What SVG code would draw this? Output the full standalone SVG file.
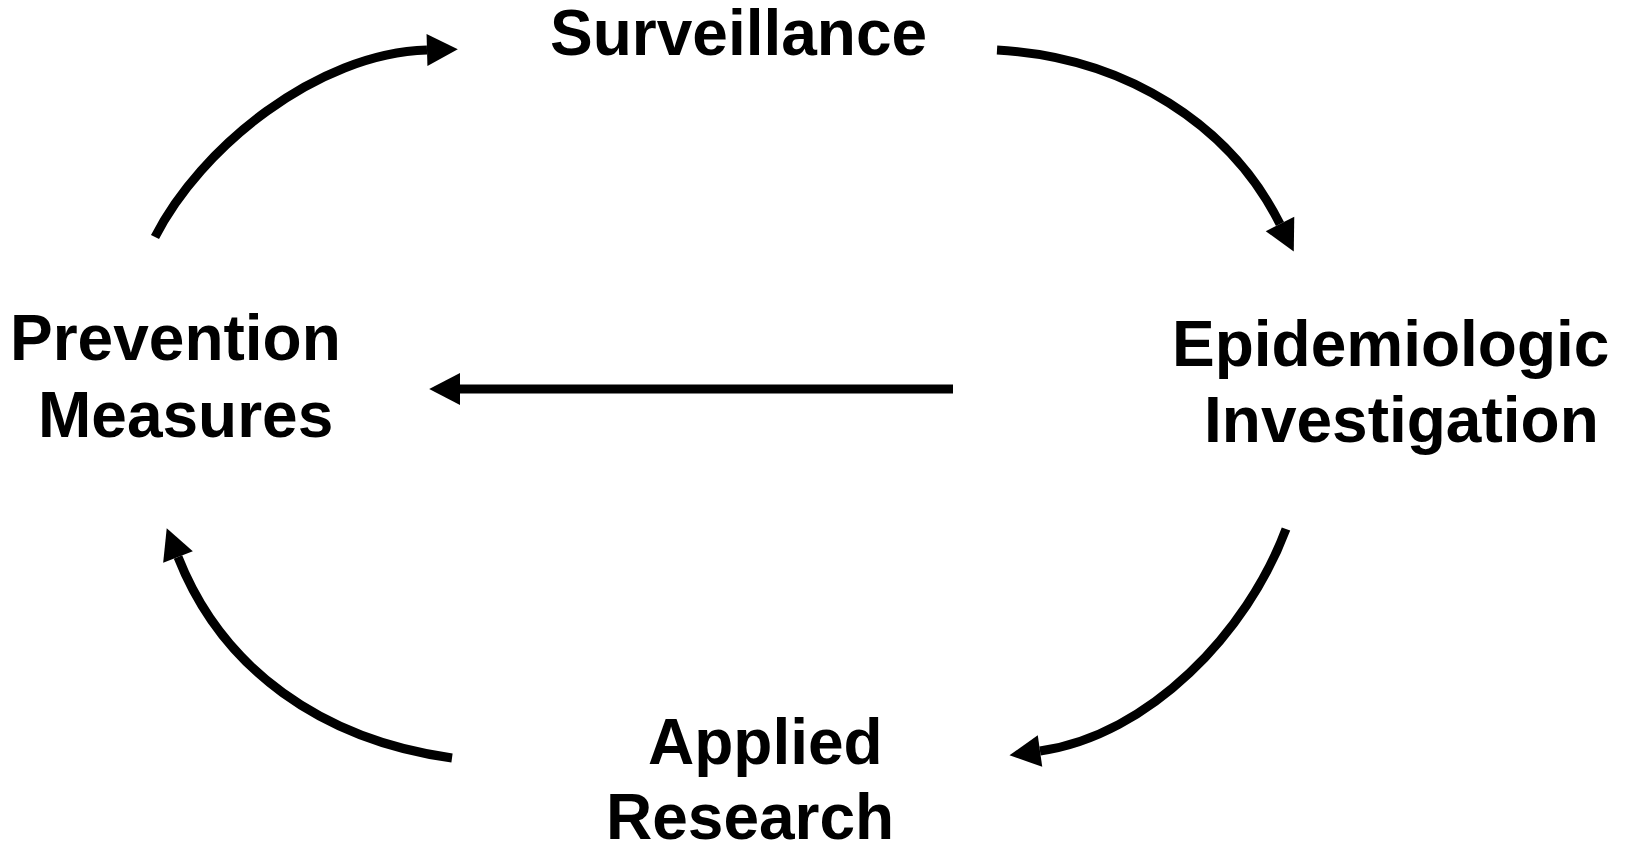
<svg xmlns="http://www.w3.org/2000/svg" width="1629" height="843" viewBox="0 0 1629 843">
  <style>
    .lbl { font-family: "Liberation Sans", Arial, sans-serif; font-weight: bold; font-size: 64px; fill: #000; }
    .conn { fill: none; stroke: #000; stroke-width: 9; stroke-linecap: butt; }
  </style>
  <defs>
    <marker id="arrow" markerUnits="userSpaceOnUse" markerWidth="32" markerHeight="34" viewBox="0 -16 30 32" refX="0" refY="0" orient="auto" overflow="visible">
      <path d="M0,-15 L29,0 L0,15 Z" fill="#000"/>
    </marker>
  </defs>
  <rect width="1629" height="843" fill="#fff"/>
  <g id="connectors">
    <path class="conn" d="M155,237 C200,148 317,53 427,50" marker-end="url(#arrow)"/>
    <path class="conn" d="M997,50 C1127,57 1231,126 1280,224" marker-end="url(#arrow)"/>
    <path class="conn" d="M1286,529 C1247.5,632.4 1149,735.6 1040,751" marker-end="url(#arrow)"/>
    <path class="conn" d="M452,758 C322,740 222,669 178,557" marker-end="url(#arrow)"/>
    <path class="conn" d="M953,389 L460,389" marker-end="url(#arrow)"/>
  </g>
  <g id="surveillance">
    <text class="lbl" x="550" y="55">Surveillance</text>
  </g>
  <g id="prevention-measures">
    <text class="lbl" x="10" y="360">Prevention</text>
    <text class="lbl" x="38" y="437">Measures</text>
  </g>
  <g id="epidemiologic-investigation">
    <text class="lbl" x="1172" y="366">Epidemiologic</text>
    <text class="lbl" x="1204" y="442">Investigation</text>
  </g>
  <g id="applied-research">
    <text class="lbl" x="648" y="764">Applied</text>
    <text class="lbl" x="606" y="839">Research</text>
  </g>
</svg>
